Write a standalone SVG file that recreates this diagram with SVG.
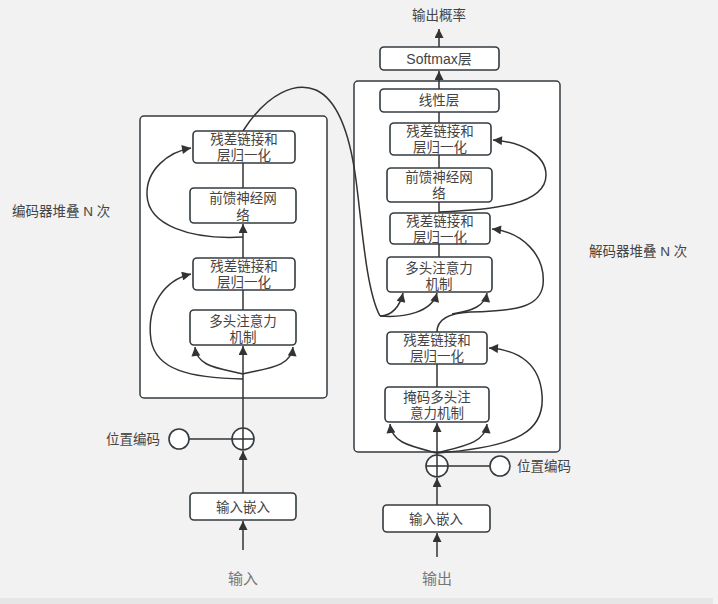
<svg xmlns="http://www.w3.org/2000/svg" width="718" height="604" viewBox="0 0 718 604">
<defs>
<style>
.bg{fill:#f2f2f2}
.cont{fill:#ffffff;stroke:#333b40;stroke-width:1.5}
.box{fill:#ffffff;stroke:#333b40;stroke-width:1.6}
.t{font-family:"Liberation Sans","Noto Sans CJK SC",sans-serif;font-size:13.5px;fill:#444;text-anchor:middle;dominant-baseline:central}
.l{font-family:"Liberation Sans","Noto Sans CJK SC",sans-serif;font-size:13.5px;fill:#444;dominant-baseline:central}
.io{font-family:"Liberation Sans","Noto Sans CJK SC",sans-serif;font-size:15px;fill:#777;text-anchor:middle;dominant-baseline:central}
.c{fill:none;stroke:#333;stroke-width:1.5}
.a{marker-end:url(#ah)}
.circ{fill:#ffffff;stroke:#333b40;stroke-width:1.6}
</style>
<marker id="ah" viewBox="0 0 10 10" refX="10" refY="5" markerWidth="12" markerHeight="9" orient="auto" markerUnits="userSpaceOnUse"><path d="M0,0 L10,5 L0,10 z" fill="#333"/></marker>
</defs>
<rect class="bg" x="0" y="0" width="718" height="604"/>
<rect x="0" y="598" width="713" height="6" fill="#e6e6e6"/>

<g id="encoder-stack">
<rect class="cont" x="140" y="116" width="187" height="282" rx="4"/>
</g>
<g id="decoder-stack">
<rect class="cont" x="354" y="81" width="206" height="371" rx="4"/>
</g>

<text class="l" x="12" y="211">编码器堆叠 N 次</text>
<text class="l" x="589" y="251">解码器堆叠 N 次</text>

<g id="connectors">
<!-- encoder -->
<path class="c a" d="M243,550 V521"/>
<path class="c a" d="M243,493 V451"/>
<path class="c" d="M189,439 H232"/>
<path class="c a" d="M243,428 V346"/>
<path class="c a" d="M243,374 C218,368 197,367 195,347"/>
<path class="c a" d="M243,374 C268,368 291,367 293,347"/>
<path class="c a" d="M243,379 C190,378 156,370 151,340 C146,305 165,280 191,274"/>
<path class="c" d="M243,310 V290"/>
<path class="c a" d="M243,258 V224"/>
<path class="c a" d="M243,237 C190,240 148,225 147,195 C146,170 168,152 191,148"/>
<path class="c" d="M243,188 V163"/>
<!-- encoder to decoder -->
<path class="c" d="M243,131 C268,92 296,82 316,90 C338,100 350,135 356,180 C362,225 366,290 380,316"/>
<path class="c a" d="M380,316 C392,316 400,306 403,293"/>
<path class="c a" d="M380,316 C405,318 432,312 437,293"/>
<!-- decoder -->
<path class="c a" d="M437,557 V533"/>
<path class="c a" d="M437,505 V478"/>
<path class="c" d="M448,466 H490"/>
<path class="c a" d="M437,455 V423"/>
<path class="c a" d="M437,453 C410,446 392,443 390,424"/>
<path class="c a" d="M437,453 C464,446 485,443 487,424"/>
<path class="c a" d="M437,453 C520,447 545,430 542,395 C540,365 520,350 489,348"/>
<path class="c" d="M437,387 V364"/>
<path class="c a" d="M437,332 C437,318 450,313 470,312 C520,311 540,306 543,285 C546,255 522,232 492,229"/>
<path class="c a" d="M452,314 C472,311 485,306 487,293"/>
<path class="c" d="M439,257 V244"/>
<path class="c" d="M439,213 V202"/>
<path class="c a" d="M439,212 C492,210 546,205 546,175 C546,155 522,142 493,140"/>
<path class="c" d="M439,168 V155"/>
<path class="c" d="M439,123 V112"/>
<path class="c a" d="M439,89 V71"/>
<path class="c a" d="M439,47 V29"/>
</g>

<g id="enc-residual2"><rect class="box" x="193" y="131" width="102" height="32" rx="4"/><text class="t"><tspan x="244" y="139">残差链接和</tspan><tspan x="244" y="155">层归一化</tspan></text></g>
<g id="enc-ffn"><rect class="box" x="190" y="188" width="106" height="35" rx="4"/><text class="t"><tspan x="243" y="198">前馈神经网</tspan><tspan x="243" y="215">络</tspan></text></g>
<g id="enc-residual1"><rect class="box" x="193" y="258" width="102" height="32" rx="4"/><text class="t"><tspan x="244" y="266">残差链接和</tspan><tspan x="244" y="282">层归一化</tspan></text></g>
<g id="enc-mha"><rect class="box" x="190" y="310" width="106" height="35" rx="4"/><text class="t"><tspan x="243" y="321">多头注意力</tspan><tspan x="243" y="337">机制</tspan></text></g>
<g id="enc-add"><circle class="circ" cx="243" cy="439" r="11"/><path class="c" d="M232,439 H254 M243,428 V450"/></g>
<g id="enc-pos"><circle class="circ" cx="179" cy="439" r="10"/><text class="l" x="106" y="439">位置编码</text></g>
<g id="enc-embed"><rect class="box" x="190" y="493" width="106" height="27" rx="4"/><text class="t" x="243" y="507">输入嵌入</text></g>
<g id="enc-input"><text class="io" x="243" y="578">输入</text></g>

<g id="output-prob"><text class="l" x="439" y="15" text-anchor="middle">输出概率</text></g>
<g id="dec-softmax"><rect class="box" x="380" y="47" width="119" height="23" rx="4"/><text class="t" x="439" y="59" style="font-size:14px">Softmax层</text></g>
<g id="dec-linear"><rect class="box" x="380" y="89" width="119" height="23" rx="4"/><text class="t" x="439" y="100">线性层</text></g>
<g id="dec-residual3"><rect class="box" x="390" y="123" width="101" height="32" rx="4"/><text class="t"><tspan x="440" y="131">残差链接和</tspan><tspan x="440" y="147">层归一化</tspan></text></g>
<g id="dec-ffn"><rect class="box" x="387" y="168" width="105" height="34" rx="4"/><text class="t"><tspan x="439" y="177">前馈神经网</tspan><tspan x="439" y="193">络</tspan></text></g>
<g id="dec-residual2"><rect class="box" x="390" y="213" width="100" height="31" rx="4"/><text class="t"><tspan x="440" y="221">残差链接和</tspan><tspan x="440" y="237">层归一化</tspan></text></g>
<g id="dec-mha"><rect class="box" x="387" y="257" width="105" height="35" rx="4"/><text class="t"><tspan x="439" y="268">多头注意力</tspan><tspan x="439" y="284">机制</tspan></text></g>
<g id="dec-residual1"><rect class="box" x="387" y="332" width="100" height="32" rx="4"/><text class="t"><tspan x="437" y="340">残差链接和</tspan><tspan x="437" y="356">层归一化</tspan></text></g>
<g id="dec-masked-mha"><rect class="box" x="385" y="387" width="104" height="35" rx="4"/><text class="t"><tspan x="437" y="397">掩码多头注</tspan><tspan x="437" y="413">意力机制</tspan></text></g>
<g id="dec-add"><circle class="circ" cx="437" cy="466" r="11"/><path class="c" d="M426,466 H448 M437,455 V477"/></g>
<g id="dec-pos"><circle class="circ" cx="500" cy="466" r="10"/><text class="l" x="517" y="466">位置编码</text></g>
<g id="dec-embed"><rect class="box" x="383" y="505" width="107" height="27" rx="4"/><text class="t" x="436" y="519">输入嵌入</text></g>
<g id="dec-output"><text class="io" x="437" y="578">输出</text></g>
</svg>
